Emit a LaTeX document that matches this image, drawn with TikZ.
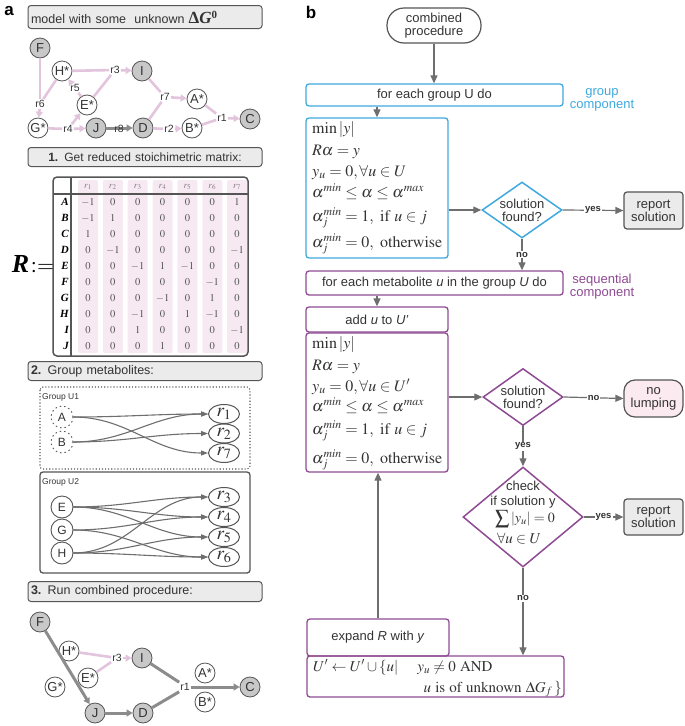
\documentclass[tikz,border=0pt]{standalone}
\usepackage{amsmath}
\usepackage{mathptmx}
\usepackage[no-math]{fontspec}
\setmainfont{Liberation Sans}
\newfontfamily\serif{Liberation Serif}
\usetikzlibrary{arrows.meta,shapes.geometric,calc}
\definecolor{gblue}{HTML}{3FA9DF}
\definecolor{gpurple}{HTML}{8E4A92}
\definecolor{aline}{HTML}{6E6E6E}
\definecolor{hdrfill}{HTML}{EBEBEB}
\definecolor{bline}{HTML}{555555}
\definecolor{pinkedge}{HTML}{E2C4DC}
\definecolor{ndfill}{HTML}{C8C8C8}
\definecolor{stripe}{HTML}{F6E9F2}
\definecolor{lumpfill}{HTML}{FBEAF0}
\definecolor{txt}{HTML}{333333}
\definecolor{netgray}{HTML}{8C8C8C}
\definecolor{valgray}{HTML}{555555}
\definecolor{hdgray}{HTML}{8A7A8A}
\newcommand{\fs}[1]{\fontsize{#1}{#1}\selectfont}
\tikzset{
  every node/.style={text=txt},
  nd/.style={circle, draw=bline, line width=0.8pt, minimum size=20pt, inner sep=0pt, font=\fs{13}},
  ndg/.style={nd, fill=ndfill},
  ndw/.style={nd, fill=white},
  rlab/.style={font=\fs{10.5}, inner sep=1pt, fill=white},
  pe/.style={draw=pinkedge, line width=2.6pt},
  pa/.style={pe, -{Triangle[length=6pt,width=7pt]}},
  ge/.style={draw=netgray, line width=3pt},
  ga/.style={ge, -{Triangle[length=6pt,width=7pt]}},
  hdr/.style={draw=bline, fill=hdrfill, rounded corners=3pt, line width=1pt, minimum width=234pt, inner sep=3pt, font=\fs{12.5}},
  mval/.style={font=\fs{10.5}, text=valgray, inner sep=0pt},
  grp/.style={font=\fs{8.5}, inner sep=0pt, anchor=west},
  gm/.style={circle, draw=bline, line width=0.9pt, minimum size=22pt, inner sep=0pt, font=\fs{12}, fill=white},
  gmd/.style={gm, dash pattern=on 1.5pt off 3pt},
  rx/.style={ellipse, draw=bline, line width=1pt, minimum width=31pt, minimum height=19pt, inner sep=0pt, font=\fs{19}, fill=white},
  ca/.style={draw=aline, line width=1.1pt, -{Triangle[length=7pt,width=5pt]}},
  box/.style={draw=#1, line width=1.3pt, rounded corners=3pt, inner sep=0pt, font=\fs{13}, align=center},
  dia/.style={diamond, draw=#1, line width=1.5pt, inner sep=0pt, fill=white},
  fa/.style={draw=aline, line width=1.2pt, -{Triangle[length=8pt,width=7pt]}},
  yn/.style={font=\bfseries\fs{9.5}, fill=white, inner sep=1pt, text=txt},
  mline/.style={anchor=base west, inner sep=0pt, font=\fs{16}},
  gbox/.style={draw=bline, fill=hdrfill, line width=1.2pt, rounded corners=3pt, font=\fs{13}, align=center, inner sep=0pt, minimum width=59pt, minimum height=37pt},
}
\begin{document}
\begin{tikzpicture}[x=1pt,y=-1pt]
\useasboundingbox (0,0) rectangle (685,726);
% ---------------- panel a ----------------
\node[font=\bfseries\fs{17}, text=black] (la) at (9,11) {a};
\node[hdr, text width=228pt, minimum height=23pt] (h0) at (145,17) {model with some\ \ unknown {\serif\bfseries\fs{17}Δ\textit{G}\raisebox{5pt}{\fs{11}0}}};
% network 1
\node[ndg] (F) at (40,48) {F};
\node[ndw] (H) at (62,71) {H*};
\node[ndg] (I) at (142,71) {I};
\node[ndw] (E) at (87,105) {E*};
\node[ndw] (A) at (197,99) {A*};
\node[ndg] (C) at (250,119) {C};
\node[ndw] (G) at (38,128) {G*};
\node[ndg] (J) at (96,128) {J};
\node[ndg] (D) at (143,128) {D};
\node[ndw] (B) at (192,128) {B*};
\node[rlab] (r3) at (115,70) {r3};
\node[rlab] (r5) at (75,88) {r5};
\node[rlab] (r6) at (40,104) {r6};
\node[rlab] (r7) at (165,97) {r7};
\node[rlab] (r1) at (222,118) {r1};
\node[rlab] (r4) at (68,129) {r4};
\node[rlab] (r2) at (169,129) {r2};
\draw[pe] (F) -- (r6); \draw[pe] (H) -- (r6); \draw[pa] (r6) -- (G);
\draw[pe] (E) -- (r5); \draw[pa] (r5) -- (H);
\draw[pe] (H) -- (r3); \draw[pe] (E) -- (r3); \draw[pa] (r3) -- (I);
\draw[pe] (I) -- (r7); \draw[pe] (D) -- (r7); \draw[pa] (r7) -- (A);
\draw[pe] (A) -- (r1); \draw[pe] (B) -- (r1); \draw[pa] (r1) -- (C);
\draw[pe] (G) -- (r4); \draw[pa] (r4) -- (J); \draw[pa] (r4) -- (E);
\draw[pe] (D) -- (r2); \draw[pa] (r2) -- (B);
\draw[ga] (J) -- (D);
\node[rlab, fill=none] (r8) at (119,129) {r8};
% header 1
\node[hdr, text width=228pt, align=center, minimum height=19pt, font=\fs{12}] (h1) at (145,157) {\textbf{1.} Get reduced stoichimetric matrix:};
% matrix
\foreach \ci in {1,...,7} {
  \fill[stripe, rounded corners=2pt] ({88+24.85*(\ci-1)-10},180) rectangle ({88+24.85*(\ci-1)+10},353);
  \node[font=\fs{9.5}, text=hdgray, inner sep=0pt] (ch\ci) at ({88+24.85*(\ci-1)},187) {$r_{\ci}$};
}
\draw[bline, line width=1.5pt, rounded corners=4pt] (53,177) rectangle (248,356);
\draw[bline, line width=1.5pt] (71,177) -- (71,356);
\draw[bline, line width=1.2pt] (53,194) -- (248,194);
\foreach \l [count=\ri] in {A,B,C,D,E,F,G,H,I,J} {
  \node[font=\serif\bfseries\itshape\fs{11}, text=black, inner sep=0pt, anchor=east] (rl\ri) at (69,{202+16*(\ri-1)}) {\l};
}
\foreach \row [count=\ri] in {{-1,0,0,0,0,0,1},{-1,1,0,0,0,0,0},{1,0,0,0,0,0,0},{0,-1,0,0,0,0,-1},{0,0,-1,1,-1,0,0},{0,0,0,0,0,-1,0},{0,0,0,-1,0,1,0},{0,0,-1,0,1,-1,0},{0,0,1,0,0,0,-1},{0,0,0,1,0,0,0}} {
  \foreach \v [count=\ci] in \row {
    \node[mval] (v\ri-\ci) at ({88+24.85*(\ci-1)},{202+16*(\ri-1)}) {$\v$};
  }
}
\node[inner sep=0pt, text=black] (Rdef) at (33,264) {{\serif\bfseries\itshape\fs{26}R}\,{\fs{22}$:=$}};
% header 2
\node[hdr, text width=228pt, minimum height=19pt] (h2) at (145,371) {\textbf{2.} Group metabolites:};
\draw[bline, line width=1.1pt, dotted, rounded corners=3pt] (40,387) rectangle (250,469);
\node[grp] (gu1) at (42,397) {Group U1};
\node[gmd] (gA) at (62,417) {A};
\node[gmd] (gB) at (62,442) {B};
\node[rx] (x1) at (224,414) {$r_1$};
\node[rx] (x2) at (224,433.5) {$r_2$};
\node[rx] (x7) at (224,453) {$r_7$};
\draw[ca] (gA.east) to[out=0,in=180] (x1.west);
\draw[ca] (gA.east) to[out=0,in=180] (x7.west);
\draw[ca] (gB.east) to[out=0,in=180] (x1.west);
\draw[ca] (gB.east) to[out=0,in=180] (x2.west);
\draw[bline, line width=1.3pt, rounded corners=3pt] (40,472) rectangle (250,573);
\node[grp] (gu2) at (42,482) {Group U2};
\node[gm] (gE) at (62,507) {E};
\node[gm] (gG) at (62,530) {G};
\node[gm] (gH) at (62,553) {H};
\node[rx] (x3) at (224,497) {$r_3$};
\node[rx] (x4) at (224,517) {$r_4$};
\node[rx] (x5) at (224,537) {$r_5$};
\node[rx] (x6) at (224,557) {$r_6$};
\draw[ca] (gE.east) to[out=0,in=180] (x3.west);
\draw[ca] (gE.east) to[out=0,in=180] (x4.west);
\draw[ca] (gE.east) to[out=0,in=180] (x5.west);
\draw[ca] (gG.east) to[out=0,in=180] (x4.west);
\draw[ca] (gG.east) to[out=0,in=180] (x6.west);
\draw[ca] (gH.east) to[out=0,in=180] (x3.west);
\draw[ca] (gH.east) to[out=0,in=180] (x5.west);
\draw[ca] (gH.east) to[out=0,in=180] (x6.west);
% header 3
\node[hdr, text width=228pt, minimum height=20pt] (h3) at (145,591.5) {\textbf{3.} Run combined procedure:};
\node[ndg] (F3) at (40,622) {F};
\node[ndw] (H3) at (69,651) {H*};
\node[ndg] (I3) at (142,658) {I};
\node[ndw] (E3) at (88,678) {E*};
\node[ndw] (G3) at (55,687) {G*};
\node[ndw] (A3) at (205,673) {A*};
\node[ndg] (C3) at (250,687) {C};
\node[ndg] (J3) at (95,713) {J};
\node[ndg] (D3) at (143,713) {D};
\node[ndw] (B3) at (205,702) {B*};
\node[rlab, fill=none] (s3) at (117,658) {r3};
\node[rlab, fill=none] (s1) at (185,687) {r1};
\draw[ga] (F3) -- (J3);
\draw[ga] (J3) -- (D3);
\draw[pe] (H3) -- (s3); \draw[pe] (E3) -- (s3); \draw[pa] (s3) -- (I3);
\draw[ge] (I3) -- (s1.north west); \draw[ge] (D3) -- (s1.south west);
\draw[ga] (s1) -- (C3);
% ---------------- panel b ----------------
\node[font=\bfseries\fs{17}, text=black] (lb) at (311,12) {b};
\node[draw=bline, line width=1.2pt, rounded corners=17pt, minimum width=94pt, minimum height=35pt, inner sep=0pt, align=center, font=\fs{13}] (start) at (434,25.5) {combined\\procedure};
\node[box=gblue, minimum width=257pt, minimum height=22pt] (loop1) at (434.5,95) {for each group U do};
\node[font=\fs{13}, text=gblue, align=center] (gc) at (602,100) {group\\component};
\node[box=gblue, minimum width=142pt, minimum height=140pt] (m1) at (377,188) {};
\node[mline] (m1a) at (312,133) {$\mathrm{min}\,|y|$};
\node[mline] (m1b) at (312,155) {$R\alpha = y$};
\node[mline] (m1c) at (312,176) {$y_u = 0, \forall u \in U$};
\node[mline] (m1d) at (312,197) {$\alpha^{min} \le \alpha \le \alpha^{max}$};
\node[mline] (m1e) at (312,221) {$\alpha^{min}_j = 1,\ \mathrm{if}\ u \in j$};
\node[mline] (m1f) at (312,247) {$\alpha^{min}_j = 0,\ \mathrm{otherwise}$};
\node[dia=gblue, minimum width=80pt, minimum height=56pt] (d1) at (522,210) {};
\node[font=\fs{13}, align=center, inner sep=0pt] (d1t) at (522,210) {solution\\found?};
\node[gbox] (rep1) at (653.5,210.5) {report\\solution};
\node[box=gpurple, minimum width=257pt, minimum height=24pt] (loop2) at (434.5,283) {for each metabolite \textit{u} in the group \textit{U} do};
\node[font=\fs{13}, text=gpurple, align=center] (sc) at (602,287) {sequential\\component};
\node[box=gpurple, minimum width=142pt, minimum height=25pt] (add) at (377,319.5) {add \textit{u} to \textit{U'}};
\node[box=gpurple, minimum width=142pt, minimum height=139pt] (m2) at (377,402.5) {};
\node[mline] (m2a) at (312,348) {$\mathrm{min}\,|y|$};
\node[mline] (m2b) at (312,370) {$R\alpha = y$};
\node[mline] (m2c) at (312,391) {$y_u = 0, \forall u \in U'$};
\node[mline] (m2d) at (312,411) {$\alpha^{min} \le \alpha \le \alpha^{max}$};
\node[mline] (m2e) at (312,434) {$\alpha^{min}_j = 1,\ \mathrm{if}\ u \in j$};
\node[mline] (m2f) at (312,463) {$\alpha^{min}_j = 0,\ \mathrm{otherwise}$};
\node[dia=gpurple, minimum width=80pt, minimum height=57pt] (d2) at (523,397) {};
\node[font=\fs{13}, align=center, inner sep=0pt] (d2t) at (523,397) {solution\\found?};
\node[gbox, fill=lumpfill, rounded corners=11pt] (lump) at (653.5,398.5) {no\\lumping};
\node[dia=gpurple, minimum width=120pt, minimum height=100pt] (d3) at (523,517) {};
\node[font=\fs{13}, inner sep=0pt] (d3a) at (523,486) {check};
\node[font=\fs{13}, inner sep=0pt] (d3b) at (523,502) {if solution y};
\node[font=\fs{14}, inner sep=0pt] (d3c) at (525,519) {$\displaystyle\sum|y_u| = 0$};
\node[font=\fs{15}, inner sep=0pt] (d3d) at (519,539) {$\forall u \in U$};
\node[gbox, minimum height=36pt] (rep2) at (653.5,517) {report\\solution};
\node[box=gpurple, minimum width=142pt, minimum height=37pt] (expand) at (378,637.5) {expand \textit{R} with \textit{y}};
\node[box=gpurple, minimum width=257pt, minimum height=41pt] (last) at (435.5,676.5) {};
\node[mline, font=\fs{15}] (la1) at (313,671) {$U' \leftarrow U' \cup \{u|\quad\ y_u \neq 0\ \mathrm{AND}$};
\node[font=\fs{15}, inner sep=0pt, anchor=base east] (la2) at (562,692) {$u\ \mathrm{is\ of\ unknown}\ \Delta G_f\,\}$};
% flow arrows
\draw[fa] (start) -- (start |- loop1.north);
\draw[fa] (loop1.south -| m1) -- (m1.north);
\draw[fa] (d1.west -| m1.east) -- (d1.west);
\draw[fa] (d1.east) -- node[yn] (y1) {yes} (rep1.west);
\draw[fa] (d1.south) -- node[yn] (n1) {no} (d1.south |- loop2.north);
\draw[fa] (loop2.south -| add) -- (add.north);
\draw[fa] (d2.west -| m2.east) -- (d2.west);
\draw[fa] (d2.east) -- node[yn] (n2) {no} (lump.west);
\draw[fa] (d2.south) -- node[yn] (y2) {yes} (d3.north);
\draw[fa] (d3.east) -- node[yn] (y3) {yes} (rep2.west);
\draw[fa] (d3.south) -- node[yn, pos=0.35] (n3) {no} (d3.south |- last.north);
\draw[fa] (expand.north) -- (m2.south -| expand);
\end{tikzpicture}
\end{document}
